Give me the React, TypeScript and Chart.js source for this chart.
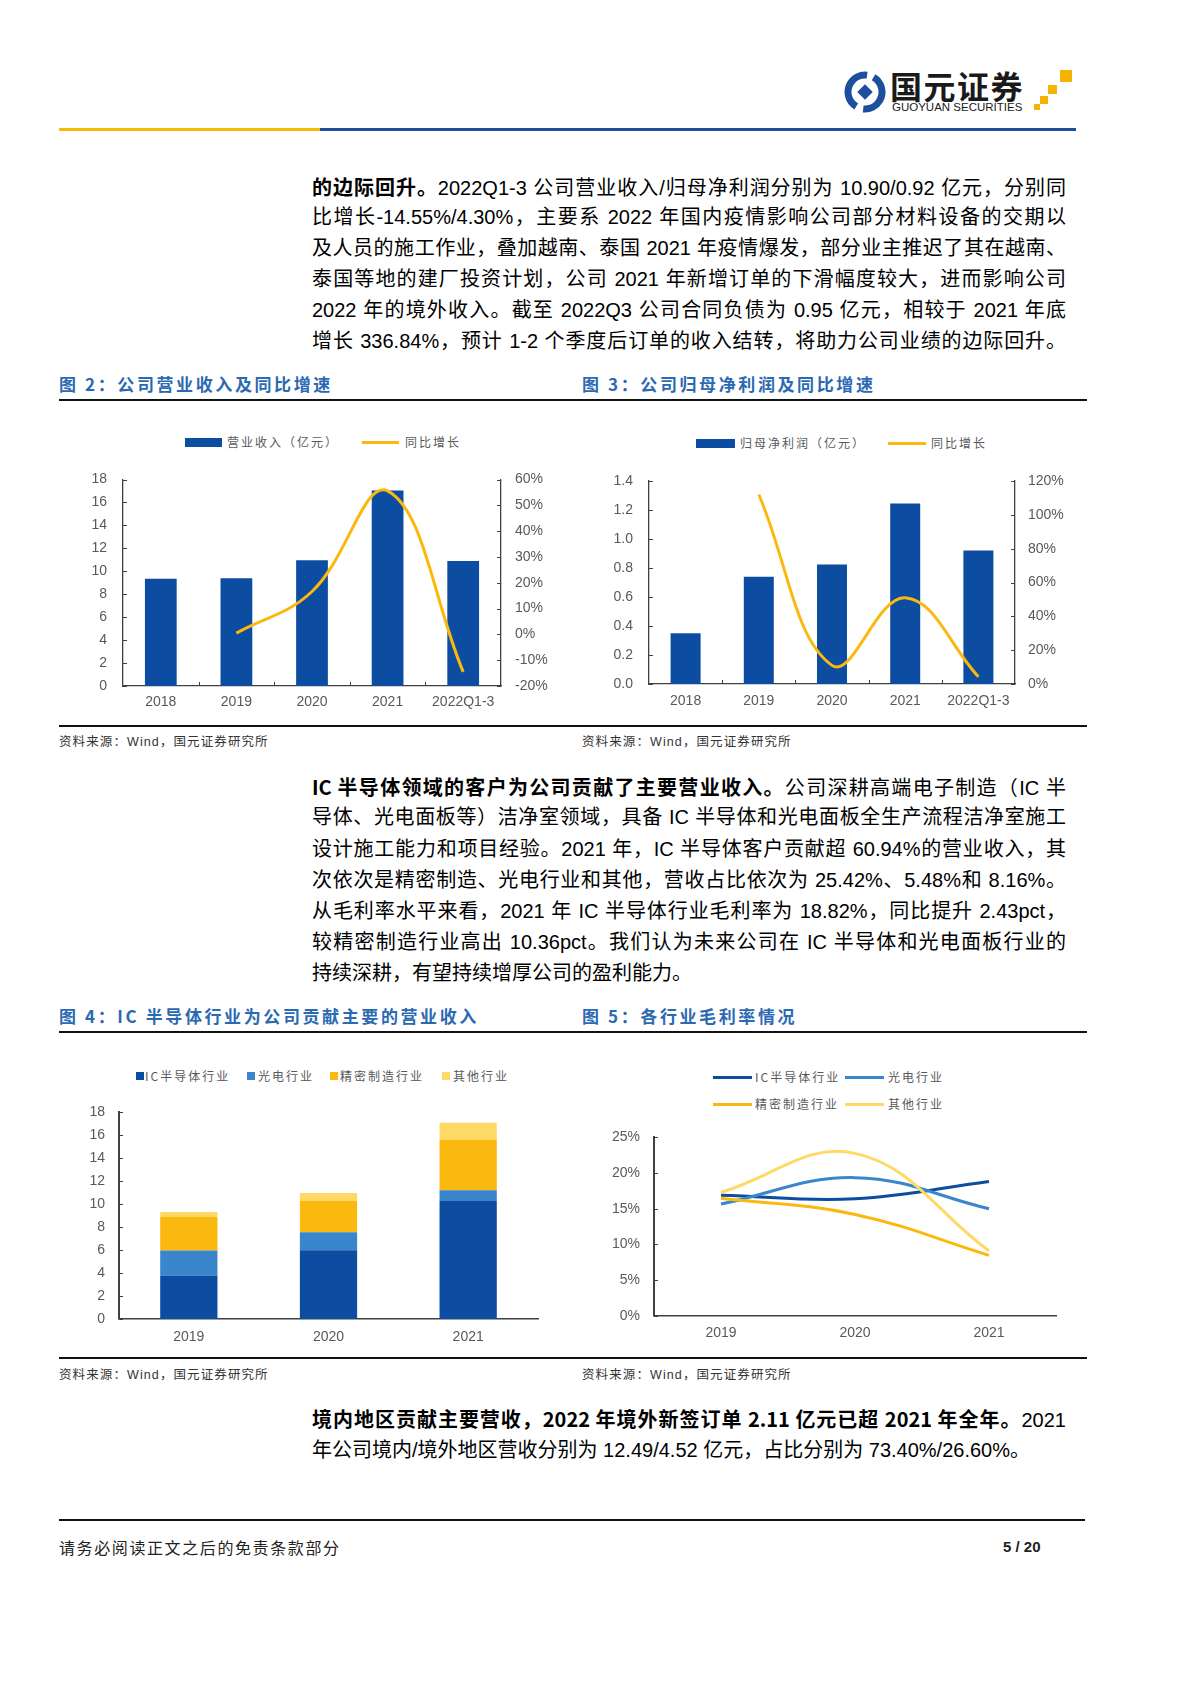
import React, { useEffect, useRef } from 'react';
import { Chart, registerables } from 'chart.js';

Chart.register(...registerables);

// ---------------- data ----------------
const revCategories = ['2018', '2019', '2020', '2021', '2022Q1-3'];
const revenue = [9.35, 9.4, 10.96, 17.05, 10.9];
const revenueYoY = [null, 0.5, 16.6, 55.6, -14.55];

const profitCategories = ['2018', '2019', '2020', '2021', '2022Q1-3'];
const profit = [0.35, 0.74, 0.825, 1.245, 0.92];
const profitYoY = [null, 112, 11, 51, 4.3];

const segYears = ['2019', '2020', '2021'];
const icRev = [3.77, 5.98, 10.25];
const optoRev = [2.18, 1.56, 0.95];
const precisionRev = [2.91, 2.73, 4.37];
const otherRev = [0.44, 0.68, 1.5];

const marginYears = ['2019', '2020', '2021'];
const icMargin = [16.9, 16.39, 18.82];
const optoMargin = [15.65, 19.35, 15.0];
const precisionMargin = [16.45, 14.2, 8.46];
const otherMargin = [17.3, 22.75, 9.1];

const revLegend = ['营业收入（亿元）', '同比增长'];
const profitLegend = ['归母净利润（亿元）', '同比增长'];
const segLegend = ['IC半导体行业', '光电行业', '精密制造行业', '其他行业'];

// ---------------- styles ----------------
const BLUE = '#0C4DA2';
const GOLD = '#FBB80F';
const MID_BLUE = '#3A86CC';
const LIGHT_GOLD = '#FFD966';
const AXIS = '#404040';
const TICK = '#595959';
const LATIN = '"Liberation Sans", "Noto Sans CJK SC", sans-serif';
const CJK = '"Noto Sans CJK SC", "Liberation Sans", sans-serif';
const TITLE_BLUE = '#2B69B2';

const innerTicks = {
  id: 'innerTicks',
  afterDraw(chart: any, _a: any, opts: any) {
    const { ctx, chartArea } = chart;
    const len = opts.len ?? 4;
    ctx.save();
    ctx.strokeStyle = opts.color || AXIS;
    ctx.lineWidth = opts.width || 1;
    (opts.yAxes || []).forEach((id: string) => {
      const s = chart.scales[id];
      if (!s) return;
      const left = s.position === 'left';
      const x0 = left ? chartArea.left : chartArea.right;
      s.ticks.forEach((t: any) => {
        const y = Math.round(s.getPixelForValue(t.value)) + 0.5;
        ctx.beginPath();
        ctx.moveTo(x0, y);
        ctx.lineTo(x0 + (left ? len : -len), y);
        ctx.stroke();
      });
    });
    if (opts.xBounds) {
      const s = chart.scales.x;
      for (let i = 1; i < s.ticks.length; i++) {
        const x = Math.round((s.getPixelForTick(i - 1) + s.getPixelForTick(i)) / 2) + 0.5;
        ctx.beginPath();
        ctx.moveTo(x, chartArea.bottom);
        ctx.lineTo(x, chartArea.bottom - len);
        ctx.stroke();
      }
    }
    ctx.restore();
  },
};

const tickFont = { family: LATIN, size: 14 };

function xScale(height: number, padding: number, bw: number) {
  return {
    type: 'category',
    offset: true,
    grid: { display: false, drawTicks: false },
    border: { display: true, color: AXIS, width: bw },
    ticks: { color: TICK, font: tickFont, padding },
    afterFit: (s: any) => {
      s.height = height;
    },
  };
}

function yScale(pos: string, width: number, min: number, max: number, step: number, padding: number, bw: number, fmt: (v: number) => string) {
  return {
    type: 'linear',
    position: pos,
    min,
    max,
    grid: { display: false, drawTicks: false },
    border: { display: true, color: AXIS, width: bw },
    ticks: { stepSize: step, color: TICK, font: tickFont, padding, callback: (v: any) => fmt(Number(v)) },
    afterFit: (s: any) => {
      s.width = width;
      s.paddingTop = 0;
      s.paddingBottom = 0;
    },
  };
}

const pct = (v: number) => `${Math.round(v)}%`;
const int = (v: number) => `${Math.round(v)}`;
const one = (v: number) => v.toFixed(1);

function revenueConfig(): any {
  return {
    type: 'bar',
    data: {
      labels: revCategories,
      datasets: [
        { type: 'line', label: revLegend[1], data: revenueYoY, yAxisID: 'y1', borderColor: GOLD, borderWidth: 3, pointRadius: 0, tension: 0.4, order: 0 },
        { type: 'bar', label: revLegend[0], data: revenue, yAxisID: 'y', backgroundColor: BLUE, barPercentage: 0.42, categoryPercentage: 1, order: 1 },
      ],
    },
    options: {
      responsive: false,
      animation: false,
      layout: { padding: { top: 19.5, left: 0, right: 0, bottom: 0 } },
      plugins: { legend: { display: false }, tooltip: { enabled: false }, innerTicks: { yAxes: ['y', 'y1'], xBounds: true } },
      scales: {
        x: xScale(34, 8, 1.3),
        y: yScale('left', 63, 0, 18, 2, 16, 1.3, int),
        y1: yScale('right', 59, -20, 60, 10, 14, 1.3, pct),
      },
    },
    plugins: [innerTicks],
  };
}

function profitConfig(): any {
  return {
    type: 'bar',
    data: {
      labels: profitCategories,
      datasets: [
        { type: 'line', label: profitLegend[1], data: profitYoY, yAxisID: 'y1', borderColor: GOLD, borderWidth: 3, pointRadius: 0, tension: 0.4, order: 0 },
        { type: 'bar', label: profitLegend[0], data: profit, yAxisID: 'y', backgroundColor: BLUE, barPercentage: 0.41, categoryPercentage: 1, order: 1 },
      ],
    },
    options: {
      responsive: false,
      animation: false,
      layout: { padding: { top: 21, left: 0, right: 0, bottom: 0 } },
      plugins: { legend: { display: false }, tooltip: { enabled: false }, innerTicks: { yAxes: ['y', 'y1'], xBounds: true } },
      scales: {
        x: xScale(36, 9, 1.3),
        y: yScale('left', 79, 0, 1.4, 0.2, 16, 1.3, one),
        y1: yScale('right', 65, 0, 120, 20, 13, 1.3, pct),
      },
    },
    plugins: [innerTicks],
  };
}

function segmentConfig(): any {
  const mk = (label: string, data: number[], color: string) => ({
    label,
    data,
    backgroundColor: color,
    barPercentage: 0.41,
    categoryPercentage: 1,
    stack: 's',
  });
  return {
    type: 'bar',
    data: {
      labels: segYears,
      datasets: [
        mk(segLegend[0], icRev, BLUE),
        mk(segLegend[1], optoRev, MID_BLUE),
        mk(segLegend[2], precisionRev, GOLD),
        mk(segLegend[3], otherRev, LIGHT_GOLD),
      ],
    },
    options: {
      responsive: false,
      animation: false,
      layout: { padding: { top: 17, left: 0, right: 12, bottom: 0 } },
      plugins: { legend: { display: false }, tooltip: { enabled: false }, innerTicks: { yAxes: ['y'], xBounds: false } },
      scales: {
        x: { ...xScale(36.1, 9.7, 1.5), stacked: true },
        y: { ...yScale('left', 59, 0, 18, 2, 14, 2, int), stacked: true },
      },
    },
    plugins: [innerTicks],
  };
}

function marginConfig(): any {
  const mk = (label: string, data: number[], color: string) => ({
    label,
    data,
    borderColor: color,
    backgroundColor: color,
    borderWidth: 3,
    pointRadius: 0,
    tension: 0.4,
  });
  return {
    type: 'line',
    data: {
      labels: marginYears,
      datasets: [
        mk(segLegend[3], otherMargin, LIGHT_GOLD),
        mk(segLegend[2], precisionMargin, GOLD),
        mk(segLegend[1], optoMargin, MID_BLUE),
        mk(segLegend[0], icMargin, BLUE),
      ],
    },
    options: {
      responsive: false,
      animation: false,
      layout: { padding: { top: 22.3, left: 0, right: 14, bottom: 0 } },
      plugins: { legend: { display: false }, tooltip: { enabled: false }, innerTicks: { yAxes: ['y'], xBounds: false } },
      scales: {
        x: xScale(39.2, 8.5, 1.5),
        y: yScale('left', 84, 0, 25, 5, 14, 2, pct),
      },
    },
    plugins: [innerTicks],
  };
}

function ChartCanvas({ left, top, width, height, make }: any) {
  const ref = useRef<HTMLCanvasElement>(null);
  useEffect(() => {
    const c = new Chart(ref.current as HTMLCanvasElement, make());
    return () => c.destroy();
  }, []);
  return <canvas ref={ref} width={width} height={height} style={{ position: 'absolute', left, top, width, height }} />;
}

function Txt({ x, cy, size, children, style }: any) {
  return (
    <div
      style={{
        position: 'absolute',
        left: x,
        top: cy - size,
        height: size * 2,
        lineHeight: `${size * 2}px`,
        fontSize: size,
        whiteSpace: 'nowrap',
        ...style,
      }}
    >
      {children}
    </div>
  );
}

function Line({ cy, children, last }: any) {
  return (
    <div
      style={{
        position: 'absolute',
        left: 312,
        width: 754,
        top: cy - 15.5,
        height: 31,
        lineHeight: '31px',
        fontSize: 20,
        fontFamily: LATIN,
        color: '#000',
        textAlign: last ? 'left' : 'justify',
        textAlignLast: last ? 'left' : 'justify',
      }}
    >
      {children}
    </div>
  );
}

const B = ({ children }: any) => <span style={{ fontWeight: 700, fontFamily: CJK }}>{children}</span>;

function Rule({ x, y, w, h, color }: any) {
  return <div style={{ position: 'absolute', left: x, top: y - h / 2, width: w, height: h, background: color }} />;
}

function Title({ x, cy, children }: any) {
  return (
    <Txt x={x} cy={cy} size={17} style={{ fontFamily: CJK, fontWeight: 700, color: TITLE_BLUE, letterSpacing: 2.6 }}>
      {children}
    </Txt>
  );
}

function Source({ x, cy }: any) {
  return (
    <Txt x={x} cy={cy} size={12.5} style={{ fontFamily: LATIN, color: '#333', letterSpacing: 1.1 }}>
      资料来源：Wind，国元证券研究所
    </Txt>
  );
}

const legendText = { fontFamily: CJK, color: TICK, letterSpacing: 2 };

function BoxKey({ x, cy, w, h, color }: any) {
  return <div style={{ position: 'absolute', left: x, top: cy - h / 2, width: w, height: h, background: color }} />;
}

export default function App() {
  return (
    <div style={{ position: 'absolute', left: 0, top: 0, width: 1190, height: 1683, background: '#fff', overflow: 'hidden' }}>
      {/* logo */}
      <svg style={{ position: 'absolute', left: 842, top: 69 }} width={46} height={46} viewBox="0 0 46 46">
        <circle cx="23" cy="23" r="17" fill="none" stroke="#1D4F9E" strokeWidth="7" strokeDasharray="46 7.4" transform="rotate(-60 23 23)" />
        <rect x="17.5" y="17.5" width="11" height="11" fill="#1D4F9E" transform="rotate(45 23 23)" />
      </svg>
      <Txt x={890} cy={85} size={32} style={{ fontFamily: CJK, fontWeight: 700, color: '#1a1a1a', letterSpacing: 1.5 }}>
        国元证券
      </Txt>
      <Txt x={892} cy={107} size={11.5} style={{ fontFamily: LATIN, color: '#1a1a1a', letterSpacing: 0 }}>
        GUOYUAN SECURITIES
      </Txt>
      <BoxKey x={1060} cy={76} w={12} h={12} color="#F5B400" />
      <BoxKey x={1048} cy={89} w={9} h={9} color="#F5B400" />
      <BoxKey x={1040} cy={100} w={8} h={8} color="#F5B400" />
      <BoxKey x={1034} cy={107} w={6} h={6} color="#F5B400" />

      <Rule x={59} y={129} w={261} h={3} color="#F5B90A" />
      <Rule x={320} y={129} w={756} h={3} color="#1F4E9C" />

      {/* paragraph 1 */}
      <Line cy={186}>
        <B>的边际回升。</B>2022Q1-3 公司营业收入/归母净利润分别为 10.90/0.92 亿元，分别同
      </Line>
      <Line cy={217}>比增长-14.55%/4.30%，主要系 2022 年国内疫情影响公司部分材料设备的交期以</Line>
      <Line cy={248}>及人员的施工作业，叠加越南、泰国 2021 年疫情爆发，部分业主推迟了其在越南、</Line>
      <Line cy={279}>泰国等地的建厂投资计划，公司 2021 年新增订单的下滑幅度较大，进而影响公司</Line>
      <Line cy={310}>2022 年的境外收入。截至 2022Q3 公司合同负债为 0.95 亿元，相较于 2021 年底</Line>
      <Line cy={341}>增长 336.84%，预计 1-2 个季度后订单的收入结转，将助力公司业绩的边际回升。</Line>

      {/* figures 2 & 3 */}
      <Title x={59} cy={384}>图 2：公司营业收入及同比增速</Title>
      <Title x={582} cy={384}>图 3：公司归母净利润及同比增速</Title>
      <Rule x={59} y={400} w={1028} h={2} color="#111" />

      <BoxKey x={185} cy={442} w={37} h={9} color={BLUE} />
      <Txt x={227} cy={442} size={12} style={legendText}>{revLegend[0]}</Txt>
      <BoxKey x={362} cy={442} w={37} h={3} color={GOLD} />
      <Txt x={405} cy={442} size={12} style={legendText}>{revLegend[1]}</Txt>
      <ChartCanvas left={60} top={460} width={500} height={260} make={revenueConfig} />

      <BoxKey x={696} cy={443} w={39} h={9} color={BLUE} />
      <Txt x={740} cy={443} size={12} style={legendText}>{profitLegend[0]}</Txt>
      <BoxKey x={888} cy={443} w={38} h={3} color={GOLD} />
      <Txt x={931} cy={443} size={12} style={legendText}>{profitLegend[1]}</Txt>
      <ChartCanvas left={570} top={460} width={510} height={260} make={profitConfig} />

      <Rule x={59} y={726} w={1028} h={1.5} color="#111" />
      <Source x={59} cy={742} />
      <Source x={582} cy={742} />

      {/* paragraph 2 */}
      <Line cy={786}>
        <B>IC 半导体领域的客户为公司贡献了主要营业收入。</B>公司深耕高端电子制造（IC 半
      </Line>
      <Line cy={817}>导体、光电面板等）洁净室领域，具备 IC 半导体和光电面板全生产流程洁净室施工</Line>
      <Line cy={849}>设计施工能力和项目经验。2021 年，IC 半导体客户贡献超 60.94%的营业收入，其</Line>
      <Line cy={880}>次依次是精密制造、光电行业和其他，营收占比依次为 25.42%、5.48%和 8.16%。</Line>
      <Line cy={911}>从毛利率水平来看，2021 年 IC 半导体行业毛利率为 18.82%，同比提升 2.43pct，</Line>
      <Line cy={942}>较精密制造行业高出 10.36pct。我们认为未来公司在 IC 半导体和光电面板行业的</Line>
      <Line cy={973} last>持续深耕，有望持续增厚公司的盈利能力。</Line>

      {/* figures 4 & 5 */}
      <Title x={59} cy={1016}>图 4：IC 半导体行业为公司贡献主要的营业收入</Title>
      <Title x={582} cy={1016}>图 5：各行业毛利率情况</Title>
      <Rule x={59} y={1032} w={1028} h={2} color="#111" />

      <BoxKey x={136} cy={1076} w={8} h={8} color={BLUE} />
      <Txt x={145} cy={1076} size={12} style={legendText}>{segLegend[0]}</Txt>
      <BoxKey x={247} cy={1076} w={8} h={8} color={MID_BLUE} />
      <Txt x={258} cy={1076} size={12} style={legendText}>{segLegend[1]}</Txt>
      <BoxKey x={330} cy={1076} w={8} h={8} color={GOLD} />
      <Txt x={340} cy={1076} size={12} style={legendText}>{segLegend[2]}</Txt>
      <BoxKey x={442} cy={1076} w={8} h={8} color={LIGHT_GOLD} />
      <Txt x={453} cy={1076} size={12} style={legendText}>{segLegend[3]}</Txt>
      <ChartCanvas left={60} top={1095} width={490} height={260} make={segmentConfig} />

      <BoxKey x={713} cy={1077} w={39} h={3} color={BLUE} />
      <Txt x={755} cy={1077} size={12} style={legendText}>{segLegend[0]}</Txt>
      <BoxKey x={845} cy={1077} w={39} h={3} color={MID_BLUE} />
      <Txt x={888} cy={1077} size={12} style={legendText}>{segLegend[1]}</Txt>
      <BoxKey x={713} cy={1104} w={39} h={3} color={GOLD} />
      <Txt x={755} cy={1104} size={12} style={legendText}>{segLegend[2]}</Txt>
      <BoxKey x={845} cy={1104} w={39} h={3} color={LIGHT_GOLD} />
      <Txt x={888} cy={1104} size={12} style={legendText}>{segLegend[3]}</Txt>
      <ChartCanvas left={570} top={1115} width={500} height={240} make={marginConfig} />

      <Rule x={59} y={1358} w={1028} h={1.5} color="#111" />
      <Source x={59} cy={1375} />
      <Source x={582} cy={1375} />

      {/* paragraph 3 */}
      <Line cy={1418}>
        <B>境内地区贡献主要营收，2022 年境外新签订单 2.11 亿元已超 2021 年全年。</B>2021
      </Line>
      <Line cy={1450} last>年公司境内/境外地区营收分别为 12.49/4.52 亿元，占比分别为 73.40%/26.60%。</Line>

      {/* footer */}
      <Rule x={59} y={1520} w={1026} h={2} color="#111" />
      <Txt x={59} cy={1547} size={16} style={{ fontFamily: CJK, color: '#222', letterSpacing: 1.6 }}>
        请务必阅读正文之后的免责条款部分
      </Txt>
      <Txt x={1003} cy={1547} size={15} style={{ fontFamily: LATIN, fontWeight: 700, color: '#222' }}>
        5 / 20
      </Txt>
    </div>
  );
}
